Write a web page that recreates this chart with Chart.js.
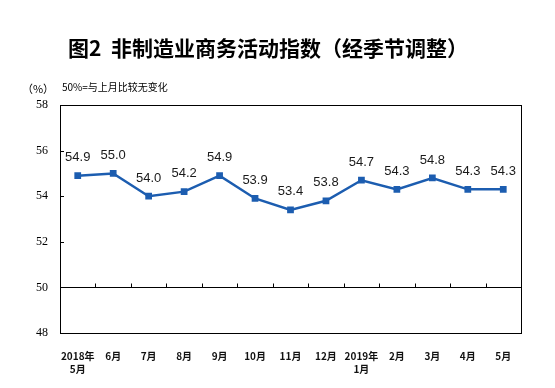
<!DOCTYPE html>
<html lang="zh">
<head>
    <meta charset="utf-8">
    <script src="https://cdn.jsdelivr.net/npm/chart.js/dist/chart.umd.min.js"></script>
    <style>
        html, body { margin: 0; padding: 0; background: #fff; }
        #wrap { width: 555px; height: 388px; }
    </style>
</head>
<body>
<div id="wrap"><canvas id="chart"></canvas></div>
<script>
    const months = [['2018年', '5月'], '6月', '7月', '8月', '9月', '10月', '11月', '12月', ['2019年', '1月'], '2月', '3月', '4月', '5月'];
    const index = [54.9, 55.0, 54.0, 54.2, 54.9, 53.9, 53.4, 53.8, 54.7, 54.3, 54.8, 54.3, 54.3];
    const title = '图2  非制造业商务活动指数（经季节调整）';
    const unitText = '（%）';
    const noteText = '50%=与上月比较无变化';
    const lineColor = '#1c5db0';

    // frame, small ticks, value labels and the heading texts
    const extras = {
        id: 'extras',
        afterDraw(chart) {
            const ctx = chart.ctx;
            const area = chart.chartArea;
            const x = chart.scales.x;
            const y = chart.scales.y;
            ctx.save();

            ctx.strokeStyle = '#000';
            ctx.lineWidth = 1;
            ctx.strokeRect(Math.round(area.left) + 0.5, Math.round(area.top) + 0.5,
                Math.round(area.right - area.left), Math.round(area.bottom - area.top));

            // ticks on the 50 line between months
            const y50 = Math.round(y.getPixelForValue(50)) + 0.5;
            ctx.beginPath();
            for (let i = 1; i < months.length; i++) {
                const bx = Math.round((x.getPixelForValue(i - 1) + x.getPixelForValue(i)) / 2) + 0.5;
                ctx.moveTo(bx, y50);
                ctx.lineTo(bx, y50 - 4);
            }
            // inward ticks on the y axis
            for (let v = 48; v <= 58; v += 2) {
                const ty = Math.round(y.getPixelForValue(v)) + 0.5;
                ctx.moveTo(area.left, ty);
                ctx.lineTo(area.left + 4, ty);
            }
            ctx.stroke();

            // value labels
            ctx.fillStyle = '#1a1a1a';
            ctx.font = '13px "Liberation Sans", Arial, sans-serif';
            ctx.textAlign = 'center';
            ctx.textBaseline = 'middle';
            chart.getDatasetMeta(0).data.forEach(function(pt, i) {
                ctx.fillText(index[i].toFixed(1), pt.x, pt.y - 18);
            });

            // heading
            ctx.fillStyle = '#000';
            ctx.font = 'bold 21px "Noto Sans CJK SC", sans-serif';
            ctx.fillText(title, 268, 48);

            ctx.font = '11px "Noto Sans CJK SC", sans-serif';
            ctx.fillText(unitText, 38, 89);
            ctx.textAlign = 'left';
            ctx.font = '10px "Noto Sans CJK SC", sans-serif';
            ctx.fillText(noteText, 62, 87);
            ctx.restore();
        }
    };

    const chart = new Chart(document.getElementById('chart'), {
        type: 'line',
        data: {
            labels: months,
            datasets: [{
                data: index,
                borderColor: lineColor,
                backgroundColor: lineColor,
                borderWidth: 2.5,
                pointStyle: 'rect',
                pointRadius: 3,
                pointHoverRadius: 3,
                tension: 0
            }]
        },
        options: {
            responsive: true,
            maintainAspectRatio: false,
            animation: false,
            layout: { padding: { top: 105, right: 34, left: 0, bottom: 0 } },
            plugins: {
                legend: { display: false },
                tooltip: { enabled: false }
            },
            scales: {
                x: {
                    offset: true,
                    grid: { display: false },
                    border: { display: false },
                    ticks: {
                        color: '#111',
                        font: { family: '"Noto Sans CJK SC", sans-serif', size: 10, weight: 'bold', lineHeight: 1.3 },
                        padding: 9,
                        maxRotation: 0,
                        autoSkip: false
                    },
                    afterFit(scale) { scale.height = 55; }
                },
                y: {
                    min: 48,
                    max: 58,
                    ticks: {
                        stepSize: 2,
                        color: '#000',
                        font: { family: '"Liberation Serif", "Times New Roman", serif', size: 12 },
                        padding: 12
                    },
                    grid: {
                        drawTicks: false,
                        color: function(c) { return c.tick && c.tick.value === 50 ? '#000' : 'rgba(0,0,0,0)'; },
                        lineWidth: 1
                    },
                    border: { display: false },
                    afterFit(scale) { scale.width = 60; }
                }
            }
        },
        plugins: [extras]
    });
</script>
</body>
</html>
